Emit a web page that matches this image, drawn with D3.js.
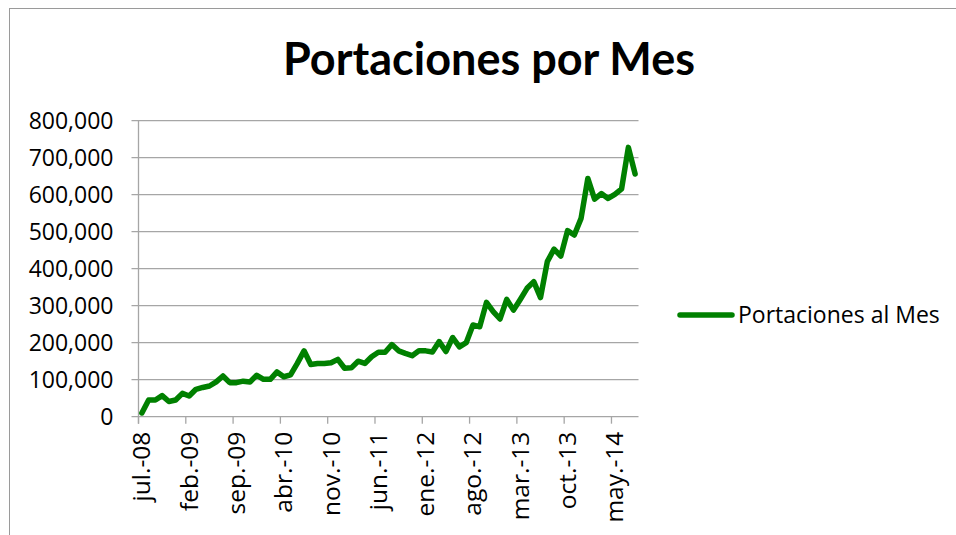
<!DOCTYPE html>
<html>
<head>
<meta charset="utf-8">
<script src="https://cdn.jsdelivr.net/npm/d3@7"></script>
<style>
    body { margin: 0; background: #fff; }
    svg { display: block; }
</style>
</head>
<body>
<div id="chart"></div>
<script>
// month categories (jul.-08 .. ago.-14)
let months = [
    "jul.-08","ago.-08","sep.-08","oct.-08","nov.-08","dic.-08",
    "ene.-09","feb.-09","mar.-09","abr.-09","may.-09","jun.-09","jul.-09","ago.-09","sep.-09","oct.-09","nov.-09","dic.-09",
    "ene.-10","feb.-10","mar.-10","abr.-10","may.-10","jun.-10","jul.-10","ago.-10","sep.-10","oct.-10","nov.-10","dic.-10",
    "ene.-11","feb.-11","mar.-11","abr.-11","may.-11","jun.-11","jul.-11","ago.-11","sep.-11","oct.-11","nov.-11","dic.-11",
    "ene.-12","feb.-12","mar.-12","abr.-12","may.-12","jun.-12","jul.-12","ago.-12","sep.-12","oct.-12","nov.-12","dic.-12",
    "ene.-13","feb.-13","mar.-13","abr.-13","may.-13","jun.-13","jul.-13","ago.-13","sep.-13","oct.-13","nov.-13","dic.-13",
    "ene.-14","feb.-14","mar.-14","abr.-14","may.-14","jun.-14","jul.-14","ago.-14"
];

// portaciones al mes
let portaciones = [
    10000, 45000, 45000, 57000, 41000, 45000,
    63000, 56000, 74000, 79000, 83000, 94000, 110000, 92000, 92000, 96000, 94000, 112000,
    101000, 101000, 121000, 108000, 113000, 144000, 178000, 141000, 144000, 144000, 146000, 155000,
    131000, 132000, 150000, 144000, 162000, 174000, 174000, 195000, 178000, 171000, 165000, 178000,
    178000, 175000, 203000, 176000, 214000, 189000, 200000, 248000, 243000, 309000, 284000, 264000,
    317000, 288000, 317000, 347000, 365000, 322000, 419000, 453000, 434000, 503000, 491000, 536000,
    644000, 588000, 603000, 590000, 601000, 616000, 728000, 656000
];

let yTicks = [0, 100000, 200000, 300000, 400000, 500000, 600000, 700000, 800000];
let tickEvery = 7;
let seriesName = "Portaciones al Mes";
let title = "Portaciones por Mes";

let width = 956, height = 535;
let plot = {left: 138.5, right: 638.5, top: 120.7, bottom: 416.7};
let green = "#008000";
let grey = "#a6a6a6";
let font = "'Open Sans', sans-serif";

let svg = d3.select("#chart").append("svg")
    .attr("width", width)
    .attr("height", height);

// chart border
svg.append("rect")
    .attr("x", 9.5).attr("y", 8.5)
    .attr("width", 980).attr("height", 560)
    .attr("fill", "none")
    .attr("stroke", "#9a9a9a")
    .attr("stroke-width", 1);

// title
svg.append("text")
    .attr("x", 489).attr("y", 75)
    .attr("text-anchor", "middle")
    .style("font-family", "Lato, sans-serif")
    .style("font-weight", "bold")
    .style("font-size", "45px")
    .text(title);

// scales
let x = d3.scaleBand()
    .domain(months)
    .range([plot.left, plot.right]);

let y = d3.scaleLinear()
    .domain([0, 800000])
    .range([plot.bottom, plot.top]);

// gridlines
svg.append("g")
    .selectAll("line")
    .data(yTicks)
    .enter()
    .append("line")
    .attr("x1", plot.left - 7).attr("x2", plot.right)
    .attr("y1", d => y(d)).attr("y2", d => y(d))
    .attr("stroke", grey)
    .attr("stroke-width", 1.3);

// y axis
let yAxis = d3.axisLeft(y)
    .tickValues(yTicks)
    .tickFormat(d3.format(","))
    .tickSize(0)
    .tickPadding(25);

let yG = svg.append("g")
    .attr("transform", "translate(" + plot.left + ",0)")
    .call(yAxis);
yG.select(".domain").remove();
yG.selectAll("text")
    .style("font-family", font)
    .style("font-size", "23px")
    .attr("fill", "#000");

// vertical axis line
svg.append("line")
    .attr("x1", plot.left).attr("x2", plot.left)
    .attr("y1", plot.top).attr("y2", plot.bottom + 7)
    .attr("stroke", grey)
    .attr("stroke-width", 1.3);

// x tick marks at category boundaries
let tickCats = months.filter((d, i) => i % tickEvery == 0);
svg.append("g")
    .selectAll("line")
    .data(tickCats)
    .enter()
    .append("line")
    .attr("x1", d => x(d)).attr("x2", d => x(d))
    .attr("y1", plot.bottom).attr("y2", plot.bottom + 7)
    .attr("stroke", grey)
    .attr("stroke-width", 1.3);

// x labels, rotated
svg.append("g")
    .selectAll("text")
    .data(tickCats)
    .enter()
    .append("text")
    .attr("transform", d => "translate(" + (x(d) + x.bandwidth() / 2 + 8.5) + "," + (plot.bottom + 15) + ") rotate(-90)")
    .attr("text-anchor", "end")
    .style("font-family", font)
    .style("font-size", "24.5px")
    .text(d => d);

// line
let line = d3.line()
    .x((d, i) => x(months[i]) + x.bandwidth() / 2)
    .y(d => y(d));

svg.append("path")
    .datum(portaciones)
    .attr("d", line)
    .attr("fill", "none")
    .attr("stroke", green)
    .attr("stroke-width", 5.5)
    .attr("stroke-linejoin", "round")
    .attr("stroke-linecap", "round");

// legend
let legend = svg.append("g")
    .attr("transform", "translate(680,315)");
legend.append("line")
    .attr("x1", 0).attr("x2", 52)
    .attr("stroke", green)
    .attr("stroke-width", 5.5)
    .attr("stroke-linecap", "round");
legend.append("text")
    .attr("x", 58).attr("y", 8)
    .style("font-family", font)
    .style("font-size", "23px")
    .text(seriesName);
</script>
</body>
</html>
